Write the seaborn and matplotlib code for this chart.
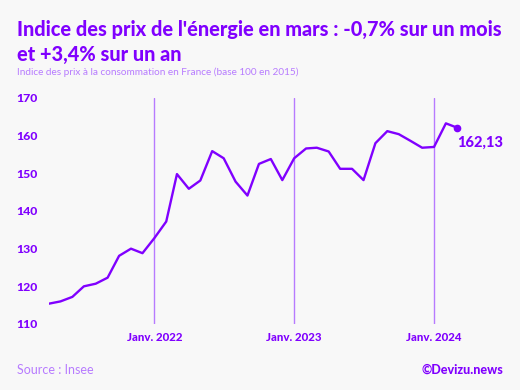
import matplotlib
matplotlib.use("Agg")
import matplotlib.pyplot as plt
import seaborn as sns
import pandas as pd

# ---- data ----
months = pd.date_range("2021-04-01", "2024-03-01", freq="MS")
values = [115.4, 116.0, 117.2, 120.0, 120.7, 122.3, 128.1, 130.0, 128.8,
          132.8, 137.2, 149.8, 145.9, 148.1, 155.9, 154.0, 147.8, 144.1,
          152.5, 153.8, 148.2, 154.0, 156.6, 156.8, 155.8, 151.2, 151.2,
          148.2, 158.0, 161.2, 160.4, 158.6, 156.8, 157.0, 163.27, 162.13]
tick_dates = pd.to_datetime(["2022-01-01", "2023-01-01", "2024-01-01"])
tick_labels = ["Janv. 2022", "Janv. 2023", "Janv. 2024"]
y_ticks = [110, 120, 130, 140, 150, 160, 170]
last_label = "162,13"

title = "Indice des prix de l'énergie en mars : -0,7% sur un mois\net +3,4% sur un an"
subtitle = "Indice des prix à la consommation en France (base 100 en 2015)"
source = "Source : Insee"
credit = "©Devizu.news"

PURPLE = "#8000ff"
LIGHT = "#b77bff"
BG = "#f8f8f8"

sns.set_theme(style="white")
plt.rcParams["font.family"] = ["Lato", "DejaVu Sans"]

W, H = 520, 390
fig = plt.figure(figsize=(W / 100, H / 100), dpi=100, facecolor=BG)
# axes in pixel coords: x 49..457, y 98..324
ax = fig.add_axes([49 / W, (H - 324) / H, (457 - 49) / W, (324 - 98) / H])
ax.set_facecolor(BG)

df = pd.DataFrame({"date": months, "value": values})
sns.lineplot(data=df, x="date", y="value", ax=ax, color=PURPLE, linewidth=1.7)

for d in tick_dates:
    ax.axvline(d, ymin=0, ymax=1, color=LIGHT, linewidth=1.0, zorder=0)

ax.plot([months[-1]], [values[-1]], "o", color=PURPLE, markersize=4.5, clip_on=False)
ax.annotate(last_label, (months[-1], values[-1]), xytext=(0, -11),
            textcoords="offset points", ha="left", va="center",
            color=PURPLE, fontsize=10.5, fontweight="black", annotation_clip=False)

ax.set_xlim(months[0], months[-1])
ax.set_ylim(110, 170)
ax.set_yticks(y_ticks)
ax.set_yticklabels([str(v) for v in y_ticks])
ax.set_xticks(tick_dates)
ax.set_xticklabels(tick_labels)
ax.set_xlabel("")
ax.set_ylabel("")
for s in ax.spines.values():
    s.set_visible(False)
ax.tick_params(axis="y", length=0, pad=23.5, labelcolor=PURPLE, labelsize=8.8)
for lab in ax.get_yticklabels():
    lab.set_fontweight("black")
    lab.set_horizontalalignment("left")
ax.tick_params(axis="x", length=3, width=0.8, color=LIGHT, direction="out",
               pad=3, labelcolor=PURPLE, labelsize=8.3)
for lab in ax.get_xticklabels():
    lab.set_fontweight("black")

fig.text(17 / W, 1 - 20 / H, title, ha="left", va="top", color=PURPLE,
         fontsize=14.3, fontweight="black", linespacing=1.35)
fig.text(17 / W, 1 - 72 / H, subtitle, ha="left", va="center", color=LIGHT,
         fontsize=7.2)
fig.text(17 / W, 1 - 370 / H, source, ha="left", va="center", color=LIGHT,
         fontsize=9)
fig.text(503 / W, 1 - 370 / H, credit, ha="right", va="center", color=PURPLE,
         fontsize=9, fontweight="black")

fig.savefig("out.png", dpi=100, facecolor=BG)
